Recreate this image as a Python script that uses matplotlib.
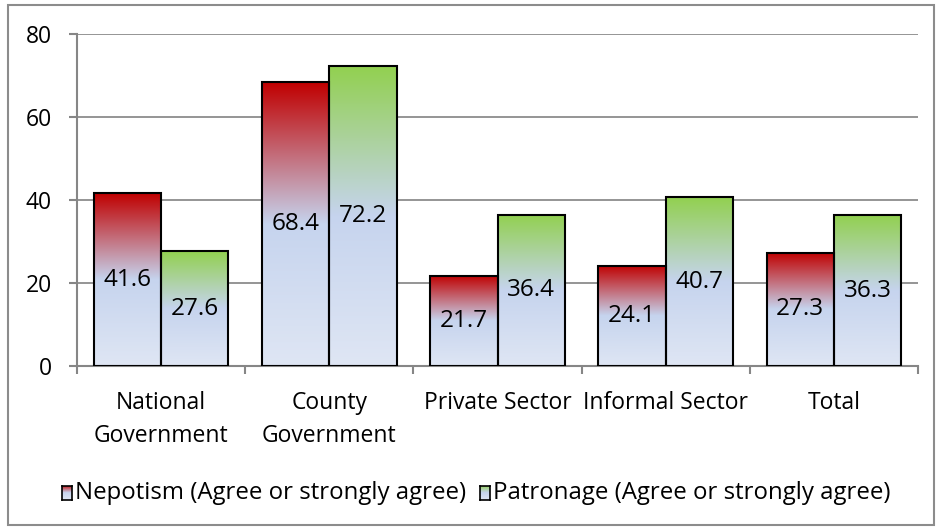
import numpy as np
import matplotlib
matplotlib.use("Agg")
import matplotlib.pyplot as plt
from matplotlib.colors import LinearSegmentedColormap
from matplotlib.patches import Rectangle

plt.rcParams["font.family"] = ["Open Sans", "DejaVu Sans"]

categories = ["National\nGovernment", "County\nGovernment", "Private Sector", "Informal Sector", "Total"]
nepotism = [41.6, 68.4, 21.7, 24.1, 27.3]
patronage = [27.6, 72.2, 36.4, 40.7, 36.3]
series_names = ["Nepotism (Agree or strongly agree)", "Patronage (Agree or strongly agree)"]
yticks = [0, 20, 40, 60, 80]

# gradients: top colour -> light blue middle -> pale blue bottom
red_cmap = LinearSegmentedColormap.from_list(
    "red_grad", [(0.0, "#C00000"), (0.5, "#C6D4EE"), (1.0, "#DFE6F4")])
green_cmap = LinearSegmentedColormap.from_list(
    "green_grad", [(0.0, "#92D050"), (0.5, "#C6D4EE"), (1.0, "#DFE6F4")])

fig = plt.figure(figsize=(9.36, 5.29), dpi=100)
ax = fig.add_axes([77 / 936, 1 - 366 / 529, (918 - 77) / 936, (366 - 34) / 529])

grad = np.linspace(0, 1, 256).reshape(-1, 1)
width = 0.4
x = np.arange(len(categories))


def gradient_bars(xpos, values, cmap):
    bars = ax.bar(xpos, values, width, facecolor="none", edgecolor="black",
                  linewidth=1.5, zorder=3)
    for b in bars:
        x0 = b.get_x()
        h = b.get_height()
        im = ax.imshow(grad, cmap=cmap, aspect="auto", extent=[x0, x0 + width, 0, h],
                       origin="upper", zorder=2, interpolation="bilinear")
        im.set_clip_path(b)
        ax.text(x0 + width / 2, h / 2, "{:.1f}".format(h), ha="center", va="center",
                fontsize=17.5, zorder=4)
    return bars


gradient_bars(x - width / 2, nepotism, red_cmap)
gradient_bars(x + width / 2, patronage, green_cmap)

ax.set_xlim(-0.5, len(categories) - 0.5)
ax.set_ylim(0, 80)
ax.set_yticks(yticks)
ax.set_xticks(np.arange(len(categories) + 1) - 0.5)
ax.set_xticklabels([])
ax.set_xticks(x, minor=True)
ax.set_xticklabels(categories, minor=True, fontsize=16.5, linespacing=1.5)
ax.tick_params(axis="x", which="minor", length=0, pad=18)
ax.tick_params(axis="x", which="major", length=6, color="#868686", width=1.5)
ax.tick_params(axis="y", length=6, color="#868686", width=1.5, labelsize=16.5, pad=12)
ax.grid(axis="y", color="#8C8C8C", linewidth=1.3, zorder=0)
ax.set_axisbelow(True)
for s in ["top", "right"]:
    ax.spines[s].set_visible(False)
for s in ["left", "bottom"]:
    ax.spines[s].set_color("#868686")
    ax.spines[s].set_linewidth(1.5)

# outer chart border
fig.patches.append(Rectangle((8 / 936, 1 - 525 / 529), 926 / 936, 520 / 529,
                             transform=fig.transFigure, fill=False,
                             edgecolor="#8C8C8C", linewidth=1.5))

# legend drawn by hand with gradient swatches
legend_items = [(62, series_names[0], red_cmap), (480, series_names[1], green_cmap)]
for lx, name, cmap in legend_items:
    sw = fig.add_axes([lx / 936, 1 - 500 / 529, 10 / 936, 14 / 529])
    sw.imshow(grad, cmap=cmap, aspect="auto", interpolation="bilinear")
    sw.set_xticks([])
    sw.set_yticks([])
    for sp in sw.spines.values():
        sp.set_linewidth(1.2)
        sp.set_color("black")
    fig.text((lx + 13) / 936, 1 - 493 / 529, name, fontsize=17.3, va="center", ha="left")

fig.savefig("out.png", dpi=100)
